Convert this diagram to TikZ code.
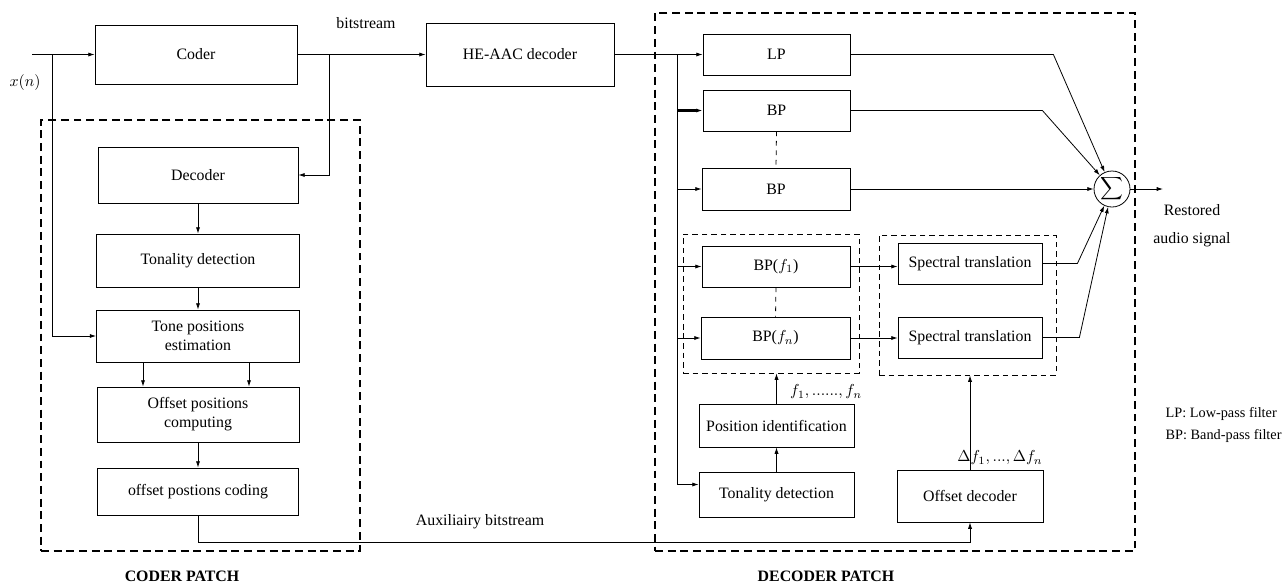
\documentclass[tikz,border=0pt]{standalone}
\usepackage{fontspec}
\setmainfont{Liberation Serif}
\usetikzlibrary{arrows.meta, positioning, calc}
\newcommand{\pxu}{0.63pt}
\tikzset{
  blk/.style 2 args={draw, minimum width=#1*\pxu, minimum height=#2*\pxu, inner sep=1pt, align=center},
  grp/.style 2 args={draw, dash pattern=on 3.5pt off 2.5pt, minimum width=#1*\pxu, minimum height=#2*\pxu},
  patch/.style 2 args={draw, line width=1.8pt, dash pattern=on 5pt off 3pt, minimum width=#1*\pxu, minimum height=#2*\pxu},
}

\begin{document}
\begin{tikzpicture}[x=\pxu, y=-\pxu, line width=0.5pt, >={Latex[length=4pt,width=2.6pt]}]
  \useasboundingbox (0,0) rectangle (1287,585);
  % coder side
  \node[blk={202}{59}] (coder) at (196,54.5) {Coder};
  \node[blk={200}{56}] (dec) at (198,175) {Decoder};
  \node[blk={203}{53}] (tonc) at (198,260.5) {Tonality detection};
  \node[blk={203}{52}] (tone) at (198,336) {Tone positions\\estimation};
  \node[blk={202}{55}] (offc) at (198,414.5) {Offset positions\\computing};
  \node[blk={201}{47}] (offcod) at (198,491.5) {offset postions coding};
  \node[patch={319}{431}] (cpatch) at (200.5,335.5) {};
  \node[font=\bfseries] (cname) at (182,576) {CODER PATCH};
  % decoder side
  \node[blk={188}{63}] (heaac) at (520,54.5) {HE-AAC decoder};
  \node[blk={147}{41}] (lp) at (776.5,54.5) {LP};
  \node[blk={147}{41}] (bp1) at (776.5,110.5) {BP};
  \node[blk={148}{42}] (bp2) at (776,189) {BP};
  \node[blk={148}{41}] (bpf1) at (776,266.5) {BP($f_1$)};
  \node[blk={149}{42}] (bpfn) at (775.5,338) {BP($f_n$)};
  \node[blk={144}{41}] (st1) at (970,263.5) {Spectral translation};
  \node[blk={144}{41}] (st2) at (970,337.5) {Spectral translation};
  \node[grp={176}{139}] (grp1) at (771,303.5) {};
  \node[grp={177}{140}] (grp2) at (967.5,305) {};
  \node[blk={155}{43}] (posid) at (776.5,425.5) {Position identification};
  \node[blk={155}{45}] (tond) at (776.5,494.5) {Tonality detection};
  \node[blk={146}{52}] (offd) at (970,496) {Offset decoder};
  \node[draw, circle, minimum size=36*\pxu, inner sep=0pt] (sum) at (1112,189) {$\displaystyle\sum$};
  \node[patch={480}{538}] (dpatch) at (895,282) {};
  \node[font=\bfseries] (dname) at (826,576) {DECODER PATCH};
  % input and coder chain
  \coordinate (xin) at (32,54.5);
  \coordinate (xsplit) at (52,54.5);
  \coordinate (csplit) at (329,54.5);
  \draw[->] (xin) -- (coder);
  \draw[->] (xsplit) |- (tone);
  \node at (25,83) {$x(n)$};
  \draw[->] (coder) -- (heaac);
  \node at (366,23) {bitstream};
  \draw[->] (csplit) |- (dec);
  \draw[->] (dec) -- (tonc);
  \draw[->] (tonc) -- (tone);
  \draw[->] ($(tone.south)+(-55,0)$) -- ($(offc.north)+(-55,0)$);
  \draw[->] ($(tone.south)+(51,0)$) -- ($(offc.north)+(51,0)$);
  \draw[->] (offc) -- (offcod);
  \draw[->] (offcod.south) -- ++(0,27) -| (offd.south);
  \node at (480,522) {Auxiliairy bitstream};
  % decoder chain
  \coordinate (dsplit) at (677,54.5);
  \draw[->] (heaac) -- (lp);
  \draw[->] (dsplit) |- ($(tond.west)+(0,-10)$);
  \draw[->, line width=1.5pt] (dsplit |- bp1) -- (bp1);
  \draw[->] (dsplit |- bp2) -- (bp2);
  \draw[->] (dsplit |- bpf1) -- (bpf1);
  \draw[->] (dsplit |- bpfn) -- (bpfn);
  \draw[dashed] (bp1.south) -- (bp2.north);
  \draw[dashed] (bpf1.south) -- (bpfn.north);
  \draw[->] (bpf1) -- (bpf1 -| st1.west);
  \draw[->] (bpfn) -- (bpfn -| st2.west);
  \draw[->] (tond) -- (posid);
  \draw[->] (posid) -- (posid |- grp1.south);
  \node at (826,392) {$f_1,......,f_n$};
  \draw[->] (offd) -- (offd |- grp2.south);
  \node at (1000,458) {$\Delta f_1, ..., \Delta f_n$};
  % summation
  \draw[->] (lp.east) -- ++(203,0) -- (sum);
  \draw[->] (bp1.east) -- ++(192,0) -- (sum);
  \draw[->] (bp2) -- (sum);
  \draw[->] (st1.east) -- ++(35,0) -- (sum);
  \draw[->] (st2.east) -- ++(37,0) -- (sum);
  \coordinate (out) at (1163,189);
  \draw[->] (sum) -- (out);
  \node[align=center] (outlbl) at (1192,226) {Restored\\[5.5pt]audio signal};
  \node[anchor=west, align=left, font=\small] (legend) at (1160,425) {LP: Low-pass filter\\[2.5pt]BP: Band-pass filter};
\end{tikzpicture}
\end{document}
